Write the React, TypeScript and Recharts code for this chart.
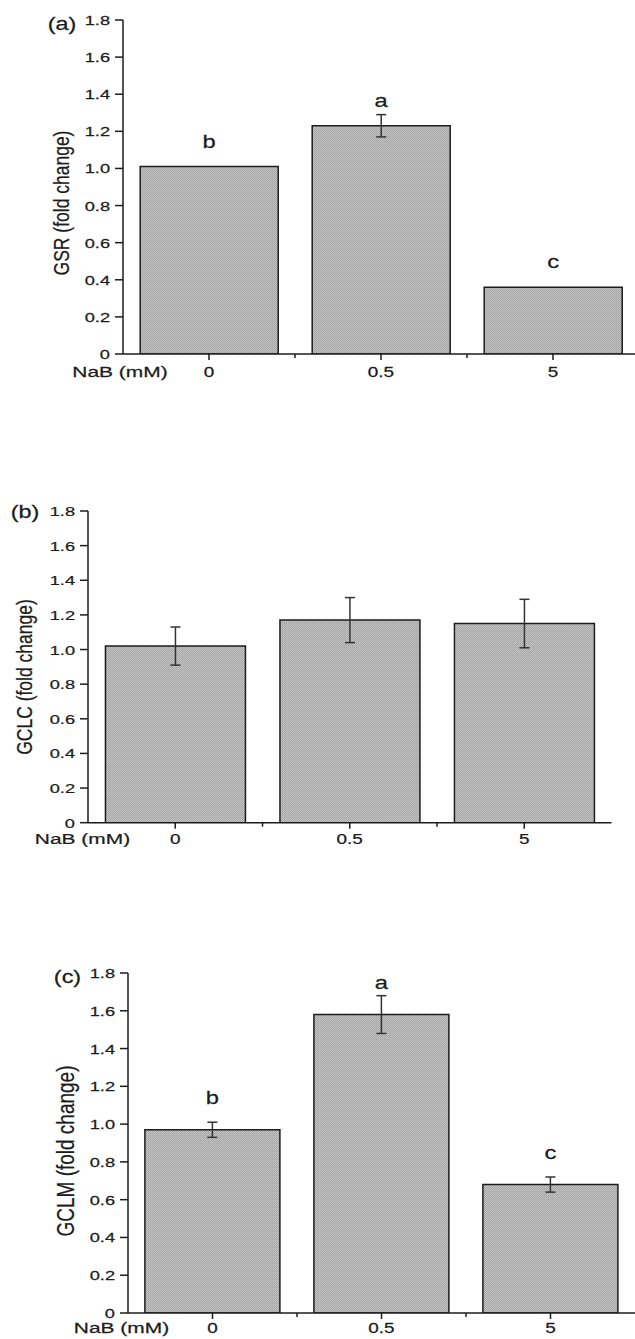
import React from "react";
import { BarChart, Bar, XAxis, YAxis, ErrorBar, LabelList, Label } from "recharts";

// NaB doses (x categories) and the shared y ticks
const doses = ["0", "0.5", "5"];
const yTicks = [0, 0.2, 0.4, 0.6, 0.8, 1.0, 1.2, 1.4, 1.6, 1.8];

// (a) GSR
const gsrMean = [1.01, 1.23, 0.36];
const gsrErr = [0, 0.06, 0];
const gsrLetters = ["b", "a", "c"];

// (b) GCLC
const gclcMean = [1.02, 1.17, 1.15];
const gclcErr = [0.11, 0.13, 0.14];

// (c) GCLM
const gclmMean = [0.97, 1.58, 0.68];
const gclmErr = [0.04, 0.1, 0.04];
const gclmLetters = ["b", "a", "c"];

const FONT = "'Liberation Sans', Arial, sans-serif";
const INK = "#1c1c1c";
const SX = 1.35; // the scanned figure is stretched sideways

type WideTextProps = {
  x: number;
  y: number;
  size: number;
  anchor?: "start" | "middle" | "end";
  sx?: number;
  children: React.ReactNode;
};

const WideText = ({ x, y, size, anchor = "middle", sx = SX, children }: WideTextProps) => (
  <text
    transform={`translate(${x},${y}) scale(${sx},1)`}
    textAnchor={anchor}
    fontSize={size}
    fontFamily={FONT}
    fill={INK}
    stroke={INK}
    strokeWidth={0.25}
  >
    {children}
  </text>
);

const fmt = (v: number) => (v === 0 ? "0" : v.toFixed(1));

const YTick = (props: any) => {
  const { x, y, payload } = props;
  return (
    <WideText x={x} y={y + 5} size={13.5} anchor="end">
      {fmt(payload.value)}
    </WideText>
  );
};

type PanelProps = {
  id: string;
  tag: string;
  title: string;
  means: number[];
  errs: number[];
  letters?: string[];
  left: number;
  top: number;
  bottom: number;
  right: number;
  tagPos: [number, number];
  titlePos: [number, number];
  titleSize: number;
  nabX: number;
  nabDy: number;
  tickDy: number;
  letterOffset: number;
};

const Panel = ({
  id,
  tag,
  title,
  means,
  errs,
  letters,
  left,
  top,
  bottom,
  right,
  tagPos,
  titlePos,
  titleSize,
  nabX,
  nabDy,
  tickDy,
  letterOffset,
}: PanelProps) => {
  const mt = 12;
  const divTop = top - mt;
  const plotH = bottom - top;
  const xAxisH = 45;
  const width = right + 2;
  const height = mt + plotH + xAxisH;
  const halfBand = (right - left) / doses.length / 2;

  const data = doses.map((d, i) => ({
    dose: d,
    mean: means[i],
    err: errs[i],
    letter: letters ? letters[i] : "",
  }));

  const XTick = (p: any) => {
    const { x, y, payload, index } = p;
    const off = payload.offset ?? halfBand;
    return (
      <g>
        <line x1={x} x2={x} y1={y} y2={y + 6} stroke={INK} strokeWidth={1.5} />
        {index < doses.length - 1 && (
          <line x1={x + off} x2={x + off} y1={y} y2={y + 4} stroke={INK} strokeWidth={1.5} />
        )}
        <WideText x={x} y={y + tickDy} size={14}>
          {payload.value}
        </WideText>
      </g>
    );
  };

  const renderLetter = (p: any) => {
    const { x, y, width: w, value } = p;
    if (!value) return null;
    return (
      <WideText x={x + w / 2} y={y - letterOffset} size={19} sx={1.25}>
        {value}
      </WideText>
    );
  };

  return (
    <div style={{ position: "absolute", left: 0, top: divTop }}>
      <BarChart
        width={width}
        height={height}
        data={data}
        margin={{ top: mt, right: 2, bottom: 0, left: 0 }}
        barCategoryGap="10%"
      >
        <defs>
          <pattern id={`dither-${id}`} width="2" height="2" patternUnits="userSpaceOnUse">
            <rect width="2" height="2" fill="#c4c4c4" />
            <rect width="1" height="1" fill="#9f9f9f" />
            <rect x="1" y="1" width="1" height="1" fill="#ababab" />
          </pattern>
        </defs>
        <XAxis
          dataKey="dose"
          height={xAxisH}
          interval={0}
          axisLine={{ stroke: INK, strokeWidth: 1.5 }}
          tickLine={false}
          tickSize={0}
          tickMargin={0}
          tick={XTick}
        >
          <Label
            content={(lp: any) => {
              const vy = lp.viewBox ? lp.viewBox.y : mt + plotH;
              return (
                <WideText x={nabX} y={vy + nabDy} size={15.5}>
                  NaB (mM)
                </WideText>
              );
            }}
          />
        </XAxis>
        <YAxis
          type="number"
          width={left}
          domain={[0, 1.8]}
          ticks={yTicks}
          interval={0}
          allowDataOverflow
          axisLine={{ stroke: INK, strokeWidth: 1.5 }}
          tickLine={{ stroke: INK, strokeWidth: 1.5 }}
          tickSize={8}
          tickMargin={5}
          tick={<YTick />}
        >
          <Label
            content={() => (
              <text
                transform={`translate(${titlePos[0]},${titlePos[1] - divTop}) scale(1.25,1) rotate(-90)`}
                textAnchor="middle"
                dy="0.35em"
                fontSize={titleSize}
                fontFamily={FONT}
                fill={INK}
                stroke={INK}
                strokeWidth={0.2}
              >
                {title}
              </text>
            )}
          />
          <Label
            content={() => (
              <WideText x={tagPos[0]} y={tagPos[1] - divTop + 6} size={18} sx={1.3}>
                {tag}
              </WideText>
            )}
          />
        </YAxis>
        <Bar
          dataKey="mean"
          fill={`url(#dither-${id})`}
          stroke={INK}
          strokeWidth={1.5}
          isAnimationActive={false}
        >
          <ErrorBar dataKey="err" width={5} stroke="#333" strokeWidth={1.5} direction="y" />
          <LabelList dataKey="letter" content={renderLetter} />
        </Bar>
      </BarChart>
    </div>
  );
};

export default function App() {
  return (
    <div
      style={{
        position: "absolute",
        left: 0,
        top: 0,
        width: 635,
        height: 1339,
        overflow: "hidden",
        background: "#fff",
      }}
    >
      <Panel
        id="a"
        tag="(a)"
        title="GSR (fold change)"
        means={gsrMean}
        errs={gsrErr}
        letters={gsrLetters}
        left={123}
        top={20}
        bottom={354}
        right={639}
        tagPos={[62, 24]}
        titlePos={[61, 203]}
        titleSize={17.5}
        nabX={120}
        nabDy={23}
        tickDy={22.5}
        letterOffset={19}
      />
      <Panel
        id="b"
        tag="(b)"
        title="GCLC (fold change)"
        means={gclcMean}
        errs={gclcErr}
        left={88}
        top={511}
        bottom={822.7}
        right={611.5}
        tagPos={[25, 512]}
        titlePos={[24, 677]}
        titleSize={17.5}
        nabX={82.5}
        nabDy={21.5}
        tickDy={21}
        letterOffset={20}
      />
      <Panel
        id="c"
        tag="(c)"
        title="GCLM (fold change)"
        means={gclmMean}
        errs={gclmErr}
        letters={gclmLetters}
        left={128}
        top={973}
        bottom={1313}
        right={635}
        tagPos={[67.5, 977]}
        titlePos={[66, 1151]}
        titleSize={19}
        nabX={121.5}
        nabDy={20}
        tickDy={19.5}
        letterOffset={26}
      />
    </div>
  );
}
